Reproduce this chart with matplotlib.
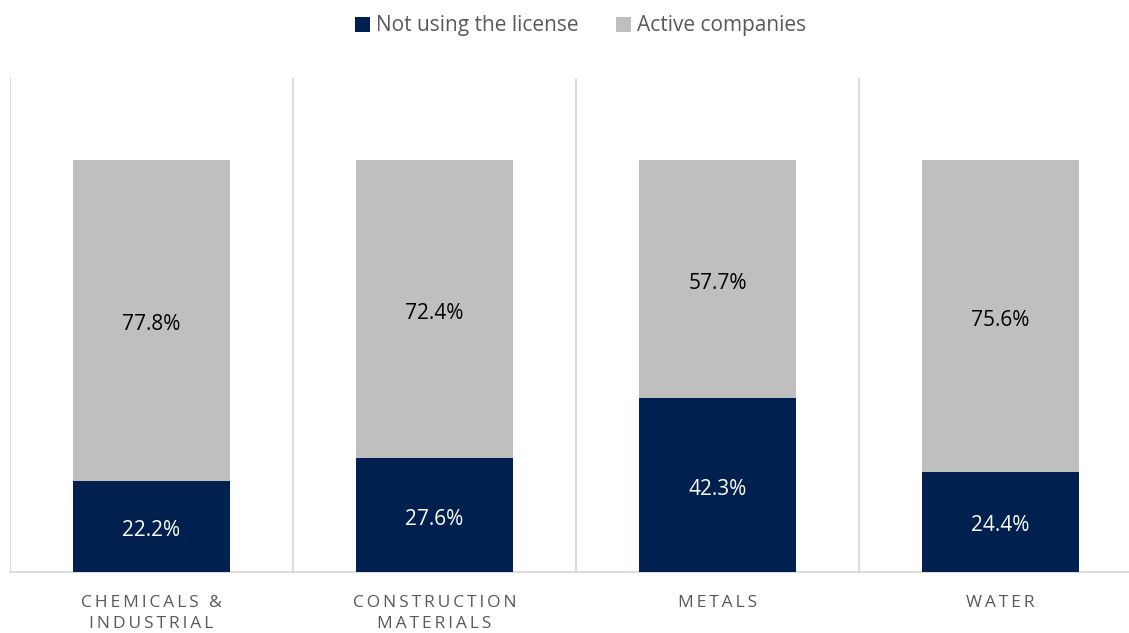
import numpy as np
import matplotlib.pyplot as plt
import matplotlib as mpl
from matplotlib.patches import Patch

mpl.rcParams['font.family'] = ['Open Sans', 'DejaVu Sans']

# Share of companies per sector (percent)
sectors = ["CHEMICALS &\nINDUSTRIAL", "CONSTRUCTION\nMATERIALS", "METALS", "WATER"]
not_using = [22.2, 27.6, 42.3, 24.4]
active = [77.8, 72.4, 57.7, 75.6]
series_names = ["Not using the license", "Active companies"]

navy = "#00204F"
grey = "#BFBFBF"
grid_col = "#D9D9D9"


def spaced(label):
    # widen letter spacing with thin spaces, line by line
    return "\n".join("\u2009".join(line) for line in label.split("\n"))


W, H = 1129, 633
fig = plt.figure(figsize=(W / 100, H / 100), dpi=100)
# the axes runs a little past the right edge of the figure
left, right, bottom, top = 10, 1142, 572, 78
ax = fig.add_axes([left / W, 1 - bottom / H, (right - left) / W, (bottom - top) / H])

x = np.arange(len(sectors))
width = 0.555
b1 = ax.bar(x, np.array(not_using) / 100, width, color=navy, zorder=3)
b2 = ax.bar(x, np.array(active) / 100, width, bottom=np.array(not_using) / 100, color=grey, zorder=3)

for bars, vals, col in [(b1, not_using, "white"), (b2, active, "black")]:
    for rect, v in zip(bars, vals):
        ax.annotate(f"{v:.1f}%",
                    (rect.get_x() + rect.get_width() / 2, rect.get_y() + rect.get_height() / 2),
                    xytext=(0, -3), textcoords="offset points",
                    ha="center", va="center", color=col, fontsize=15, zorder=4)

ax.set_xlim(-0.5, len(sectors) - 0.5)
ax.set_ylim(0, 1.2)

# vertical separators between categories
for sep in np.arange(len(sectors) + 1) - 0.5:
    ax.axvline(sep, color=grid_col, lw=1.3, zorder=1)

for s in ["top", "right", "left"]:
    ax.spines[s].set_visible(False)
ax.spines["bottom"].set_color(grid_col)
ax.spines["bottom"].set_linewidth(1.3)
ax.set_yticks([])
ax.set_xticks(x)
ax.set_xticklabels([spaced(s) for s in sectors], color="#595959", fontsize=12.5,
                   linespacing=1.4, va="top")
ax.tick_params(axis="x", length=0, pad=16.5)

handles = [Patch(facecolor=navy), Patch(facecolor=grey)]
fig.legend(handles, series_names, loc="center", bbox_to_anchor=(0.514, 1 - 26 / H),
           ncol=2, frameon=False, fontsize=15, handlelength=0.75, handleheight=0.75,
           handletextpad=0.25, columnspacing=1.8, labelcolor="#595959")

fig.savefig("out.png", dpi=100)
